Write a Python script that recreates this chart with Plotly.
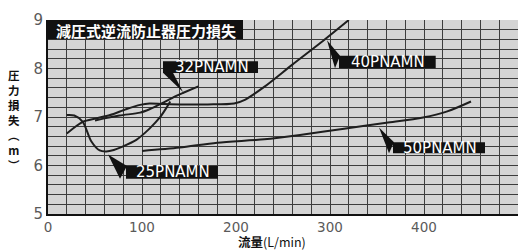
import plotly.graph_objects as go

# ---- data ----
x25 = [20, 28, 37, 46, 55, 62, 70, 78, 94, 108, 119, 126, 130]
y25 = [7.04, 7.03, 6.90, 6.50, 6.31, 6.29, 6.32, 6.38, 6.53, 6.76, 6.99, 7.19, 7.32]

x32 = [50, 76, 98, 108, 122, 137, 144, 160]
y32 = [6.93, 7.03, 7.09, 7.16, 7.29, 7.44, 7.50, 7.63]

x40 = [20, 37, 51, 66, 83, 98, 108, 122, 140, 170, 198, 210, 230, 260, 290, 320]
y40 = [6.66, 6.90, 6.97, 7.04, 7.16, 7.25, 7.28, 7.27, 7.26, 7.26, 7.28, 7.36, 7.62, 8.08, 8.53, 9.0]

x50 = [100, 140, 180, 230, 268, 315, 360, 399, 424, 450]
y50 = [6.30, 6.37, 6.47, 6.54, 6.63, 6.76, 6.88, 6.99, 7.11, 7.32]

series_names = ["25PNAMN", "32PNAMN", "40PNAMN", "50PNAMN"]
title_text = "減圧式逆流防止器圧力損失"
x_title = "<b>流量</b>(L/min)"
y_title_chars = ["圧", "力", "損", "失", "︵", "m", "︶"]
x_ticks = [0, 100, 200, 300, 400, 500]
y_ticks = [5, 6, 7, 8, 9]

# ---- layout geometry (pixels) ----
W, H = 529, 251
L, R, T, B = 48, 11, 12, 37
PW, PH = W - L - R, H - T - B
X0, X1, Y0, Y1 = 0, 500, 5, 9


def dx(px):
    return X0 + (px - L) / PW * (X1 - X0)


def dy(py):
    return Y0 + (T + PH - py) / PH * (Y1 - Y0)


def paper(px, py):
    return (px - L) / PW, (T + PH - py) / PH


fig = go.Figure()
line_style = dict(color="#1e1e1e", width=2, shape="spline", smoothing=0.8)
for xs, ys, nm in [(x25, y25, series_names[0]), (x32, y32, series_names[1]),
                   (x40, y40, series_names[2]), (x50, y50, series_names[3])]:
    fig.add_trace(go.Scatter(x=xs, y=ys, mode="lines", name=nm, line=line_style,
                             showlegend=False, hoverinfo="skip", cliponaxis=True))

shapes = []
annotations = []

# title box
shapes.append(dict(type="rect", xref="x", yref="y", x0=dx(48), x1=dx(243), y0=dy(32), y1=dy(12),
                   fillcolor="#111", line=dict(width=0), layer="above"))
annotations.append(dict(xref="x", yref="y", x=dx(146), y=dy(22.5), text=title_text, showarrow=False,
                        font=dict(family="Noto Sans CJK JP", size=15, color="white", weight=700)))

# series label boxes: (box px x0, y0, x1, y1, tail polygon px)
labels = [
    (series_names[0], (126, 164, 218, 177.3), [(108, 152), (127, 164), (120, 177.3)]),
    (series_names[1], (163, 55, 258, 67.3), [(163, 67), (173, 67), (183, 87)]),
    (series_names[2], (339, 49.3, 435.7, 62.3), [(327, 33), (340, 49.3), (335, 62.3)]),
    (series_names[3], (393, 139.3, 485, 150.7), [(379, 124), (394, 139.3), (389, 150.7)]),
]
for name, (bx0, by0, bx1, by1), tail in labels:
    shapes.append(dict(type="rect", xref="x", yref="y", x0=dx(bx0), x1=dx(bx1), y0=dy(by1), y1=dy(by0),
                       fillcolor="#111", line=dict(width=0), layer="above"))
    path = "M " + " L ".join(f"{dx(px)},{dy(py)}" for px, py in tail) + " Z"
    shapes.append(dict(type="path", xref="x", yref="y", path=path, fillcolor="#111",
                       line=dict(width=0), layer="above"))
    annotations.append(dict(xref="x", yref="y", x=dx((bx0 + bx1) / 2 + 1), y=dy((by0 + by1) / 2),
                            text=name, showarrow=False,
                            font=dict(family="DejaVu Sans", size=15, color="white")))

# y axis title: one annotation, characters stacked vertically
xp, yp = paper(14, 116)
annotations.append(dict(xref="paper", yref="paper", x=xp, y=yp,
                        text="<br>".join(f"<b>{c}</b>" for c in y_title_chars),
                        showarrow=False, xanchor="center", yanchor="middle", align="center",
                        font=dict(family="Noto Sans CJK JP", size=11.5, color="#111")))

# x axis title
xp, yp = paper(272, 243)
annotations.append(dict(xref="paper", yref="paper", x=xp, y=yp, text=x_title, showarrow=False,
                        xanchor="center", yanchor="middle",
                        font=dict(family="Noto Sans CJK JP", size=12.5, color="#111")))

grid_col = "#3c3c3c"
fig.update_layout(
    width=W, height=H,
    margin=dict(l=L, r=R, t=T, b=B, pad=0),
    paper_bgcolor="white",
    plot_bgcolor="#d4d4d4",
    shapes=shapes,
    annotations=annotations,
    xaxis=dict(range=[X0, X1], tickvals=x_ticks, ticktext=[str(v) for v in x_ticks],
               showgrid=True, gridcolor=grid_col, gridwidth=1,
               minor=dict(dtick=20, tick0=0, showgrid=True, gridcolor=grid_col, gridwidth=1),
               showline=True, linecolor="#111", linewidth=2, zeroline=False, ticks="",
               tickfont=dict(family="DejaVu Sans", size=13.5, color="#5a5a5a"), fixedrange=True),
    yaxis=dict(range=[Y0, Y1], tickvals=y_ticks, ticktext=[str(v) for v in y_ticks],
               showgrid=True, gridcolor=grid_col, gridwidth=1,
               minor=dict(dtick=0.2, tick0=5, showgrid=True, gridcolor=grid_col, gridwidth=1),
               showline=True, linecolor="#111", linewidth=2, zeroline=False, ticks="",
               tickfont=dict(family="DejaVu Sans", size=15, color="#5a5a5a"), fixedrange=True),
)

fig.write_html("out.html", config={"displayModeBar": False},
               post_script="document.body.style.margin='0';document.body.style.overflow='hidden';")
